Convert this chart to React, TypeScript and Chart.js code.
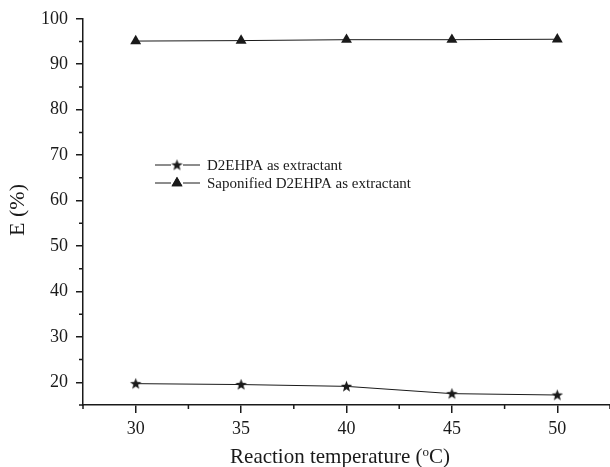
import { useEffect, useRef } from 'react';
import { Chart, registerables } from 'chart.js';
import { drawPoint } from 'chart.js/helpers';

Chart.register(...registerables);

const temperatures = [30, 35, 40, 45, 50];
const d2ehpa = [19.7, 19.5, 19.1, 17.5, 17.2];
const saponified = [95.1, 95.2, 95.4, 95.4, 95.5];
const xTicks = [30, 35, 40, 45, 50];
const xMinor = [27.5, 32.5, 37.5, 42.5, 47.5, 52.5];
const yTicks = [20, 30, 40, 50, 60, 70, 80, 90, 100];
const yMinor = [15, 25, 35, 45, 55, 65, 75, 85, 95];
const seriesLabels = ['D2EHPA as extractant', 'Saponified D2EHPA as extractant'];

const INK = '#1a1a1a';
const FONT = '"Liberation Serif", "Times New Roman", serif';

function makeStar(): HTMLCanvasElement {
  const c = document.createElement('canvas');
  c.width = 13;
  c.height = 13;
  const ctx = c.getContext('2d')!;
  const cx = 6.5, cy = 6.8, R = 6, r = 2.5;
  ctx.beginPath();
  for (let i = 0; i < 10; i++) {
    const a = -Math.PI / 2 + (i * Math.PI) / 5;
    const rad = i % 2 === 0 ? R : r;
    const px = cx + Math.cos(a) * rad;
    const py = cy + Math.sin(a) * rad;
    if (i === 0) ctx.moveTo(px, py);
    else ctx.lineTo(px, py);
  }
  ctx.closePath();
  ctx.fillStyle = INK;
  ctx.fill();
  return c;
}

export default function App() {
  const ref = useRef<HTMLCanvasElement | null>(null);

  useEffect(() => {
    if (!ref.current) return;
    const star = makeStar();

    const decorations = {
      id: 'decorations',
      afterDraw(chart: any) {
        const ctx = chart.ctx as CanvasRenderingContext2D;
        const xs = chart.scales.x;
        const ys = chart.scales.y;
        const area = chart.chartArea;
        ctx.save();
        ctx.strokeStyle = INK;
        ctx.lineWidth = 1.5;
        // minor ticks
        ctx.beginPath();
        xMinor.forEach((v) => {
          const px = xs.getPixelForValue(v);
          ctx.moveTo(px, area.bottom);
          ctx.lineTo(px, area.bottom + 4);
        });
        yMinor.forEach((v) => {
          const py = ys.getPixelForValue(v);
          ctx.moveTo(area.left, py);
          ctx.lineTo(area.left - 4, py);
        });
        ctx.stroke();

        // legend
        const rows = [165, 183];
        chart.data.datasets.forEach((ds: any, i: number) => {
          const y = rows[i];
          ctx.strokeStyle = INK;
          ctx.lineWidth = 1;
          ctx.beginPath();
          ctx.moveTo(155, y);
          ctx.lineTo(171, y);
          ctx.moveTo(183, y);
          ctx.lineTo(200, y);
          ctx.stroke();
          drawPoint(ctx, {
            pointStyle: ds.pointStyle,
            radius: ds.pointRadius,
            rotation: 0,
            borderWidth: 0,
          } as any, 177, y);
          ctx.fillStyle = INK;
          ctx.fill();
          ctx.fillStyle = INK;
          ctx.font = `15px ${FONT}`;
          ctx.textAlign = 'left';
          ctx.textBaseline = 'middle';
          ctx.fillText(ds.label, 207, y + 1);
        });

        // x title with superscript o
        ctx.fillStyle = INK;
        ctx.textBaseline = 'alphabetic';
        const big = `21px ${FONT}`;
        const small = `13px ${FONT}`;
        const p1 = 'Reaction temperature (';
        const p2 = 'o';
        const p3 = 'C)';
        ctx.font = big;
        const w1 = ctx.measureText(p1).width;
        const w3 = ctx.measureText(p3).width;
        ctx.font = small;
        const w2 = ctx.measureText(p2).width;
        const total = w1 + w2 + w3;
        const x0 = 340 - total / 2;
        const base = 463;
        ctx.textAlign = 'left';
        ctx.font = big;
        ctx.fillText(p1, x0, base);
        ctx.font = small;
        ctx.fillText(p2, x0 + w1, base - 7);
        ctx.font = big;
        ctx.fillText(p3, x0 + w1 + w2, base);

        // y title
        ctx.save();
        ctx.translate(24, 210);
        ctx.rotate(-Math.PI / 2);
        ctx.font = `22px ${FONT}`;
        ctx.textAlign = 'center';
        ctx.textBaseline = 'alphabetic';
        ctx.fillText('E (%)', 0, 0);
        ctx.restore();

        ctx.restore();
      },
    };

    const chart = new Chart(ref.current, {
      type: 'line',
      data: {
        datasets: [
          {
            label: seriesLabels[0],
            data: temperatures.map((t, i) => ({ x: t, y: d2ehpa[i] })),
            borderColor: INK,
            borderWidth: 1,
            pointStyle: star as any,
            pointRadius: 6,
            pointBackgroundColor: INK,
            pointBorderWidth: 0,
            tension: 0,
          },
          {
            label: seriesLabels[1],
            data: temperatures.map((t, i) => ({ x: t, y: saponified[i] })),
            borderColor: INK,
            borderWidth: 1,
            pointStyle: 'triangle',
            pointRadius: 6.3,
            pointBackgroundColor: INK,
            pointBorderColor: INK,
            pointBorderWidth: 0,
            tension: 0,
          },
        ],
      },
      options: {
        animation: false,
        responsive: true,
        maintainAspectRatio: false,
        layout: { autoPadding: false, padding: { top: 18, right: 0, left: 0, bottom: 0 } },
        plugins: {
          legend: { display: false },
          tooltip: { enabled: false },
        },
        scales: {
          x: {
            type: 'linear',
            min: 27.5,
            max: 52.5,
            afterBuildTicks: (s: any) => {
              s.ticks = xTicks.map((v) => ({ value: v }));
            },
            afterFit: (s: any) => {
              s.height = 62;
            },
            grid: {
              drawOnChartArea: false,
              drawTicks: true,
              tickLength: 8,
              color: INK,
              lineWidth: 1.5,
            },
            border: { display: true, color: INK, width: 1.5 },
            ticks: {
              color: INK,
              font: { family: FONT, size: 18 },
              padding: 5,
              maxRotation: 0,
              autoSkip: false,
              callback: (v: any) => String(v),
            },
          },
          y: {
            type: 'linear',
            min: 15,
            max: 100,
            afterBuildTicks: (s: any) => {
              s.ticks = yTicks.map((v) => ({ value: v }));
            },
            afterFit: (s: any) => {
              s.width = 83;
            },
            grid: {
              drawOnChartArea: false,
              drawTicks: true,
              tickLength: 7,
              color: INK,
              lineWidth: 1.5,
            },
            border: { display: true, color: INK, width: 1.5 },
            ticks: {
              color: INK,
              font: { family: FONT, size: 18 },
              padding: 8,
              autoSkip: false,
              callback: (v: any) => String(v),
            },
          },
        },
      },
      plugins: [decorations],
    });
    return () => chart.destroy();
  }, []);

  return (
    <div style={{ position: 'absolute', left: 0, top: 0, width: 610, height: 467, background: '#fff' }}>
      <canvas ref={ref} />
    </div>
  );
}
